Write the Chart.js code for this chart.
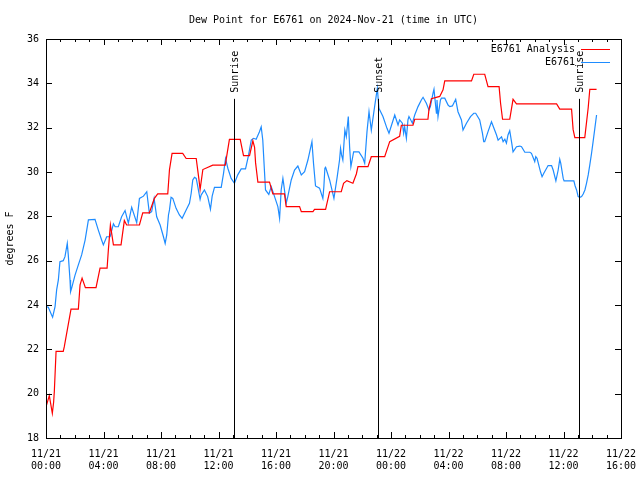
<!DOCTYPE html>
<html>
<head>
<meta charset="utf-8">
<script src="https://cdn.jsdelivr.net/npm/chart.js@4.4.1/dist/chart.umd.min.js"></script>
<style>
  html, body { margin: 0; padding: 0; background: #fff; }
  #wrap { width: 640px; height: 480px; }
</style>
</head>
<body>
<div id="wrap"><canvas id="myChart" width="640" height="480"></canvas></div>
<script>
// hours after 11/21 00:00 UTC
var analysisHours = [0.00,0.23,0.44,0.53,0.58,0.70,1.20,1.27,1.74,2.25,2.37,2.51,2.74,3.48,3.76,4.25,4.34,4.48,4.69,5.22,
  5.45,5.61,6.50,6.73,7.19,7.54,7.77,8.47,8.59,8.77,9.51,9.75,10.45,10.63,10.72,10.91,11.60,12.47,12.76,13.51,
  13.74,14.16,14.39,14.51,14.58,14.74,15.55,15.67,15.78,16.59,16.71,17.64,17.76,18.57,18.68,19.45,19.73,20.54,20.70,20.93,
  21.35,21.59,21.70,22.40,22.63,23.56,23.91,24.60,24.72,25.53,25.65,26.57,26.64,26.81,27.39,27.62,27.74,29.60,29.76,30.52,
  30.75,31.52,31.62,31.76,32.26,32.49,32.73,35.52,35.74,36.56,36.67,36.79,37.48,37.72,37.83,38.30];
var analysisValues = [19.41,19.91,19.11,19.61,20.11,21.91,21.91,22.11,23.81,23.81,24.91,25.21,24.78,24.78,25.66,25.66,26.5,27.61,26.71,26.71,
  27.81,27.61,27.61,28.16,28.16,28.81,29.01,29.01,30.11,30.84,30.84,30.61,30.61,29.71,29.21,30.11,30.31,30.31,31.47,31.47,
  30.74,30.74,31.41,31.11,30.41,29.54,29.54,29.26,29.01,29.01,28.44,28.44,28.21,28.21,28.31,28.31,29.11,29.11,29.49,29.61,
  29.49,29.91,30.24,30.24,30.69,30.69,31.37,31.61,32.11,32.11,32.38,32.38,32.81,33.31,33.41,33.71,34.11,34.11,34.41,34.41,
  33.85,33.85,33.11,32.38,32.38,33.28,33.07,33.07,32.84,32.84,31.91,31.55,31.55,32.91,33.73,33.73];

var obsHours = [0.00,0.16,0.39,0.46,0.63,0.74,0.86,0.97,1.20,1.32,1.48,1.55,1.67,1.71,1.78,2.02,2.25,2.48,2.72,2.95,
  3.41,3.64,3.87,3.99,4.22,4.46,4.69,4.81,5.03,5.26,5.50,5.73,5.96,6.31,6.50,6.78,7.01,7.19,7.35,7.52,
  7.70,7.94,8.17,8.29,8.40,8.52,8.59,8.70,8.82,9.05,9.28,9.47,9.75,9.98,10.10,10.21,10.33,10.45,10.56,10.72,
  10.79,11.02,11.25,11.44,11.56,11.72,12.19,12.35,12.49,12.65,12.88,13.11,13.34,13.58,13.88,14.07,14.28,14.44,14.62,14.85,
  14.97,15.08,15.13,15.27,15.50,15.67,15.90,16.13,16.25,16.36,16.48,16.53,16.71,16.82,17.06,17.29,17.52,17.76,17.99,18.22,
  18.50,18.61,18.75,19.03,19.26,19.33,19.40,19.45,19.73,20.03,20.26,20.42,20.49,20.56,20.65,20.79,20.89,21.03,21.12,21.21,
  21.40,21.77,22.05,22.17,22.33,22.47,22.63,22.86,23.05,23.16,23.44,23.72,23.86,24.26,24.49,24.60,24.79,24.88,24.95,25.07,
  25.18,25.25,25.49,25.65,25.88,26.11,26.23,26.46,26.64,26.74,26.92,26.99,27.04,27.16,27.20,27.27,27.44,27.51,27.74,27.97,
  28.09,28.27,28.50,28.66,28.90,29.01,29.25,29.53,29.76,29.89,30.17,30.36,30.45,30.52,30.75,30.99,31.34,31.45,31.69,31.80,
  31.92,32.03,32.14,32.26,32.40,32.49,32.73,32.96,33.08,33.31,33.66,33.77,34.00,34.07,34.16,34.40,34.51,34.63,34.93,35.17,
  35.28,35.47,35.63,35.74,35.81,35.98,36.04,36.72,36.81,36.91,37.02,37.14,37.26,37.37,37.49,37.60,37.72,37.83,37.95,38.06,
  38.18,38.30];
var obsValues = [23.93,23.90,23.55,23.45,23.93,24.68,25.13,25.95,26.00,26.18,26.78,26.26,25.13,24.60,24.75,25.35,25.81,26.26,26.93,27.84,
  27.86,27.38,26.93,26.71,27.08,27.08,27.66,27.53,27.53,27.98,28.26,27.69,28.41,27.71,28.81,28.91,29.11,28.14,28.21,28.81,
  27.98,27.61,27.08,26.78,27.16,28.06,28.29,28.86,28.81,28.36,28.06,27.91,28.29,28.59,29.04,29.64,29.76,29.71,29.34,28.77,
  28.96,29.19,28.89,28.32,28.91,29.31,29.31,29.94,30.61,30.17,29.71,29.49,29.87,30.14,30.14,30.69,31.44,31.52,31.48,31.82,
  32.04,31.44,30.84,29.19,28.99,29.34,28.89,28.44,27.91,29.19,29.71,29.49,28.59,28.89,29.64,30.09,30.27,29.87,30.01,30.54,
  31.37,30.39,29.37,29.27,28.81,29.34,30.17,30.21,29.64,28.81,29.79,30.54,31.07,30.77,30.54,31.89,31.59,32.50,31.14,30.24,
  30.91,30.91,30.62,30.39,31.82,32.72,31.89,32.95,33.78,32.87,32.50,31.97,31.75,32.57,32.12,32.35,32.20,31.75,32.04,31.52,
  32.35,32.50,32.20,32.57,32.95,33.25,33.37,33.10,32.80,32.95,33.55,33.73,33.40,32.65,33.25,32.50,33.25,33.33,33.33,33.02,
  32.95,32.98,33.28,32.72,32.35,31.89,32.20,32.50,32.65,32.65,32.35,31.75,31.37,31.37,31.82,32.27,31.67,31.44,31.59,31.37,
  31.48,31.30,31.67,31.86,31.30,30.91,31.14,31.17,31.14,30.89,30.89,30.84,30.47,30.69,30.62,30.01,29.79,29.94,30.29,30.29,
  30.09,29.60,30.09,30.57,30.39,29.71,29.60,29.60,29.37,29.19,28.89,28.86,28.89,29.01,29.19,29.49,29.87,30.32,30.84,31.37,
  31.97,32.57];

var eventHours = [13.06, 23.08, 37.10];
var eventLabels = ["Sunrise", "Sunset", "Sunrise"];
var eventTop = 33.3;

var seriesNames = ["E6761 Analysis", "E6761"];
var seriesColors = ["#ff0000", "#1e8cff"];

var xTicks = [0, 4, 8, 12, 16, 20, 24, 28, 32, 36, 40];
var yTicks = [18, 20, 22, 24, 26, 28, 30, 32, 34, 36];

var titleText = "Dew Point for E6761 on 2024-Nov-21 (time in UTC)";
var yTitle = "degrees F";
var monoFont = "'DejaVu Sans Mono', 'Liberation Mono', monospace";

function toPoints(xs, ys) {
    return xs.map(function (x, i) { return { x: x, y: ys[i] }; });
}

function pad2(n) { return (n < 10 ? "0" : "") + n; }

var decor = {
    id: "decor",
    afterDatasetsDraw: function (chart) {
        var ctx = chart.ctx;
        var a = chart.chartArea;
        var xs = chart.scales.x, ys = chart.scales.y;
        ctx.save();
        ctx.strokeStyle = "#000";
        ctx.lineWidth = 1;

        // sunrise / sunset lines
        ctx.font = "10px " + monoFont;
        ctx.fillStyle = "#000";
        eventHours.forEach(function (h, i) {
            var px = Math.round(xs.getPixelForValue(h)) + 0.5;
            var top = ys.getPixelForValue(eventTop);
            ctx.beginPath();
            ctx.moveTo(px, top);
            ctx.lineTo(px, a.bottom);
            ctx.stroke();
            ctx.save();
            ctx.translate(px + 1, top - 6);
            ctx.rotate(-Math.PI / 2);
            ctx.textAlign = "left";
            ctx.textBaseline = "middle";
            ctx.fillText(eventLabels[i], 0, 0);
            ctx.restore();
        });

        // frame
        ctx.strokeRect(a.left + 0.5, a.top + 0.5, a.right - a.left, a.bottom - a.top);

        // inward ticks, all four sides
        ctx.beginPath();
        yTicks.forEach(function (v) {
            var py = Math.round(ys.getPixelForValue(v)) + 0.5;
            ctx.moveTo(a.left, py); ctx.lineTo(a.left + 6, py);
            ctx.moveTo(a.right, py); ctx.lineTo(a.right - 6, py);
        });
        for (var h = 0; h <= 40; h++) {
            var len = (h % 4 === 0) ? 6 : 3;
            var px = Math.round(xs.getPixelForValue(h)) + 0.5;
            ctx.moveTo(px, a.bottom); ctx.lineTo(px, a.bottom - len);
            ctx.moveTo(px, a.top); ctx.lineTo(px, a.top + len);
        }
        ctx.stroke();

        // title and y label
        ctx.font = "10px " + monoFont;
        ctx.textAlign = "center";
        ctx.textBaseline = "middle";
        ctx.fillText(titleText, (a.left + a.right) / 2, 20);
        ctx.save();
        ctx.translate(10, (a.top + a.bottom) / 2);
        ctx.rotate(-Math.PI / 2);
        ctx.fillText(yTitle, 0, 0);
        ctx.restore();

        // key, gnuplot style: text then line sample
        ctx.textAlign = "right";
        seriesNames.forEach(function (name, i) {
            var ly = 49 + i * 13;
            ctx.fillStyle = "#000";
            ctx.fillText(name, 575, ly);
            ctx.strokeStyle = seriesColors[i];
            ctx.beginPath();
            ctx.moveTo(581, ly + 0.5);
            ctx.lineTo(610, ly + 0.5);
            ctx.stroke();
        });
        ctx.restore();
    }
};

new Chart("myChart", {
    type: "line",
    data: {
        datasets: [{
            label: seriesNames[0],
            data: toPoints(analysisHours, analysisValues),
            borderColor: seriesColors[0],
            borderWidth: 1.2,
            pointRadius: 0,
            tension: 0,
            fill: false
        }, {
            label: seriesNames[1],
            data: toPoints(obsHours, obsValues),
            borderColor: seriesColors[1],
            borderWidth: 1.2,
            pointRadius: 0,
            tension: 0,
            fill: false
        }]
    },
    options: {
        responsive: false,
        animation: false,
        layout: { padding: { left: 0, top: 39, right: 19, bottom: 0 } },
        plugins: {
            legend: { display: false },
            title: { display: false },
            tooltip: { enabled: false }
        },
        scales: {
            x: {
                type: "linear",
                min: 0,
                max: 40,
                afterFit: function (s) { s.height = 42; s.paddingLeft = 0; s.paddingRight = 0; },
                afterBuildTicks: function (s) { s.ticks = xTicks.map(function (v) { return { value: v }; }); },
                grid: { display: false, drawTicks: false },
                border: { display: false },
                ticks: {
                    padding: 10,
                    color: "#000",
                    maxRotation: 0,
                    autoSkip: false,
                    font: { family: monoFont, size: 10, lineHeight: 1.2 },
                    callback: function (v) {
                        var day = 21 + Math.floor(v / 24);
                        return ["11/" + day, pad2(v % 24) + ":00"];
                    }
                }
            },
            y: {
                min: 18,
                max: 36,
                afterFit: function (s) { s.width = 46; s.paddingTop = 0; s.paddingBottom = 0; },
                afterBuildTicks: function (s) { s.ticks = yTicks.map(function (v) { return { value: v }; }); },
                grid: { display: false, drawTicks: false },
                border: { display: false },
                ticks: {
                    padding: 7,
                    color: "#000",
                    font: { family: monoFont, size: 10 }
                }
            }
        }
    },
    plugins: [decor]
});
</script>
</body>
</html>
